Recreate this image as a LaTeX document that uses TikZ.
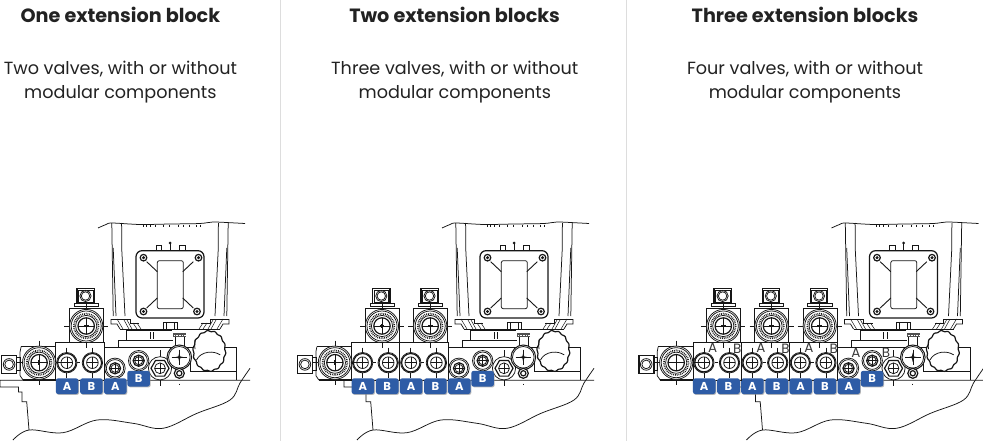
\documentclass[tikz,border=0pt]{standalone}
\usepackage{fontspec}
\setmainfont{Poppins}
\usetikzlibrary{shadows}
\definecolor{ink}{HTML}{161616}
\definecolor{badgeblue}{HTML}{2E5CA6}
\definecolor{rule}{HTML}{DDDDDD}
\definecolor{caption}{HTML}{222222}
\tikzset{
  ln/.style={draw=ink,line width=0.75pt},
  thin ln/.style={draw=ink,line width=0.5pt},
  heavy/.style={draw=ink,line width=1.2pt},
  teeth/.style={draw=ink,line width=1.7pt,dash pattern=on 0.8pt off 1pt},
  heading/.style={font=\fontsize{19.2}{24}\selectfont\bfseries,text=caption,anchor=base,inner sep=0pt},
  subline/.style={font=\fontsize{17.6}{24.7}\selectfont,text=caption,align=center,anchor=north,inner sep=0pt},
  badge/.style={rectangle,rounded corners=2.4pt,fill=badgeblue,text=white,
    font=\fontsize{11.5}{11.5}\selectfont\bfseries,minimum width=22.6pt,minimum height=15.7pt,inner sep=0pt,
    drop shadow={shadow xshift=0.8pt,shadow yshift=-0.9pt,fill=black!45,opacity=0.6}},
  ghost/.style={font=\fontsize{13.5}{14}\selectfont,text=ink!85,inner sep=0pt},
  portpic/.pic={
    \draw[ln] (0,-15)--(0,15);
    \draw[ln,fill=white] (0,0) circle[radius=10.2];
    \draw[heavy,fill=white] (0,0) circle[radius=9.2];
    \draw[ln,fill=white] (0,0) circle[radius=5.8];
    \draw[thin ln] (-5.8,0)--(5.8,0) (0,-5.8)--(0,5.8);
  },
  fittingpic/.pic={
    \draw[ln,fill=white] (0,0) circle[radius=10.2];
    \draw[ln] (0,0) circle[radius=8.7];
    \draw[heavy] (0,0) circle[radius=5.6];
    \draw[ln] (0,0) circle[radius=4];
    \draw[thin ln] (-5.6,0)--(5.6,0) (0,-5.6)--(0,5.6);
  },
  valvepic/.pic={
    \draw[thin ln] (-22,0)--(22,0) (0,-22)--(0,22);
    \draw[ln,fill=white] (0,0) circle[radius=16.6];
    \draw[ln] (0,0) circle[radius=15];
    \draw[teeth] (0,0) circle[radius=12.4];
    \draw[ln] (0,0) circle[radius=10.6];
    \draw[heavy] (0,0) circle[radius=8.2];
    \draw[thin ln] (-8.2,0)--(8.2,0) (0,-8.2)--(0,8.2);
    \draw[line width=1.4pt,draw=ink] (-2.4,0)--(2.4,0) (0,-2.4)--(0,2.4);
  },
  topvalvepic/.pic={
    \draw[heavy,fill=white] (-9.3,-37.3) rectangle (8,-22.7);
    \draw[ln] (-8,-36) rectangle (6.7,-24);
    \draw[ln] (-12,-22.7) rectangle (12.3,-19.3);
    \draw[ln] (-16.7,-17.7)--(17.3,-17.7)--(17.3,15.7);
    \draw[ln] (-16.7,-17.7)--(-16.7,15.7);
    \draw[ln,fill=white] (-0.7,-30) circle[radius=5.6];
    \draw[ln] (-0.7,-30) circle[radius=4.2];
    \pic at (0,0) {valvepic};
  },
  leftendpic/.pic={
    \draw[heavy] (-37.3,-7.3) rectangle (-22.3,10.7);
    \draw[ln] (-22.3,-5) rectangle (-19,8);
    \draw[ln] (-19,-11)--(-19,13) (-19,-11)--(-18,-16) (-19,13)--(-16,17.3);
    \draw[heavy] (-18,-16)--(16.7,-16) (-16,17.3)--(16.7,17.3);
    \draw[ln] (-30,1.7) circle[radius=5.8];
    \draw[ln] (-30,1.7) circle[radius=4.3];
    \pic at (0,0) {valvepic};
  },
  extblockpic/.pic={
    \draw[ln] (0,342.7) rectangle (48.2,380.3);
    \draw[ln] (21.6,362.7)--(24.6,362.7);
    \pic at (11,362.7) {portpic};
    \pic at (36.6,362.7) {portpic};
  },
  rightunitpic/.pic={
    % ground line and broken outline
    \draw[ln] (250,380.3)--(0,380.3)--(0,387)--(18.5,387)--(18.5,392)--(22,392)--(22,401.7)--(26.7,401.7)--(29,430);
    \draw[ln] plot[smooth,tension=0.6] coordinates {(13,440)(29,430)(63,432.7)(97,420)(133,423.3)(163,428.3)(197,413.3)(230,400)(240,383)(250,368.3)};
    % motor
    \draw[ln] plot[smooth,tension=0.5] coordinates {(98,228)(106,224.5)(112,223)(140,224.5)(170,224)(200,223.5)(213,222)(230,222.7)(245,223.5)};
    \foreach \s in {1,-1}{
      \draw[ln] ({170-\s*58.2},223)--({170-\s*56.8},316);
      \draw[ln] ({170-\s*56.8},248)--({170-\s*54},316);
      \draw[ln] ({170-\s*48.4},223)--({170-\s*48.2},250)--({170-\s*45},316);
      \draw[ln] ({170-\s*59},319)--({170-\s*59},324)--({170-\s*53},324)--({170-\s*50},329);
      \draw[ln] ({170-\s*59},319)--({170-\s*40},319)--({170-\s*40},323)--({170-\s*31},323);
      \draw[thin ln] ({170-\s*53},319)--({170-\s*47},329) ({170-\s*46},320)--({170-\s*41},329) ({170-\s*43},320)--({170-\s*38},329) ({170-\s*37},323)--({170-\s*33},329) ({170-\s*33},323)--({170-\s*29},329);
      \draw[line width=0.9pt,draw=ink] ({170-\s*23.3},261.7)--({170-\s*12.7},271.7);
      \draw[line width=0.9pt,draw=ink] ({170-\s*23.3},308)--({170-\s*12.7},298);
    }
    \draw[ln] (120,329)--(220,329);
    \draw[thin ln] (143,224.5)--(143,227) (146,224.5)--(146,227) (150,224.5)--(150,227) (155,224.5)--(155,227) (163,224.5)--(163,227) (169,224.5)--(169,227) (178,224.5)--(178,227) (183,224.5)--(183,227) (189,224.5)--(189,227) (196,224.5)--(196,227) (200,224.5)--(200,227);
    \draw[heavy,rounded corners=6pt] (136,250.7) rectangle (204,318);
    \draw[ln,rounded corners=2pt] (157.3,260.7) rectangle (183.3,308.7);
    \draw[ln] (156,250.7)--(156,245)--(161.7,245)--(161.7,250.7) (179,250.7)--(179,245)--(185,245)--(185,250.7) (170,243)--(170,250.7);
    \fill[ink] (170,243) circle[radius=1.5];
    \foreach \px/\py in {143.5/257.7,198.5/257.7,143.5/311.5,197/311.5}{
      \draw[heavy] (\px,\py) circle[radius=3.3];
      \fill[ink] (\px,\py) circle[radius=1.7];
    }
    \draw[ln] (163,329)--(163,322)--(177,322)--(177,329) (166,322)--(166,329) (174,322)--(174,329);
    % mounting steps
    \draw[ln] (126.7,340)--(126.7,330.7)--(172,330.7);
    \draw[ln] (150,332)--(150,338.5) (153.5,332)--(153.5,338.5);
    \draw[ln] (118.3,347.7)--(118.3,340)--(173,340);
    \draw[ln] (104,347.7)--(236.7,347.7)--(236.7,380.3);
    \draw[ln] (190,357)--(190,371.7)--(236.7,371.7);
    % ports
    \pic at (115,368.3) {fittingpic};
    \pic at (138.7,360.7) {fittingpic};
    % hex nut
    \draw[ln] (160,350)--(160,386);
    \draw[ln,fill=white] (160,368.3) circle[radius=11.6];
    \draw[heavy,fill=white] (169,368.3)--(164.5,376.1)--(155.5,376.1)--(151,368.3)--(155.5,360.5)--(164.5,360.5)--cycle;
    \draw[ln] (160,368.3) circle[radius=5.4];
    \draw[thin ln] (154.6,368.3)--(165.4,368.3) (160,362.9)--(160,373.7);
    % handwheel
    \draw[heavy,fill=white] plot[smooth cycle,domain=0:356,samples=90] ({209.3+(16+0.55*sin(14*\x))*cos(\x)},{351+(20+0.55*sin(14*\x))*sin(\x)});
    \draw[ln] (195,340) arc[start angle=215,end angle=145,x radius=2,y radius=8];
    \draw[ln] (196.5,360) arc[start angle=200,end angle=310,x radius=15,y radius=12];
    % small knob
    \draw[ln] (175,336.7)--(175,347) (184,336.7)--(184,347);
    \fill[ink!75] (173.3,332.7) rectangle (186,336.7);
    \draw[white,line width=0.4pt,dash pattern=on 0.7pt off 0.9pt] (174,334.7)--(185.5,334.7);
    \draw[line width=1pt,draw=ink,fill=white] (179.3,357.3) circle[radius=12.3];
    \draw[ln] (179.3,357.3) circle[radius=10.8];
    \draw[thin ln] (171.5,357.3)--(187.1,357.3) (179.3,349.5)--(179.3,365.1);
    \fill[ink] (179.3,352.5)--(180.2,356.4)--(184.1,357.3)--(180.2,358.2)--(179.3,362.1)--(178.4,358.2)--(174.5,357.3)--(178.4,356.4)--cycle;
    \draw[heavy,fill=white] (179.3,373.3) circle[radius=5];
    \draw[heavy] (179.3,373.3) circle[radius=2.6];
    \draw[thin ln] (179,383.7)--(179,385);
  }
}
\begin{document}
\begin{tikzpicture}[x=1pt,y=-1pt]
  \useasboundingbox (0,0) rectangle (983,441);
  \fill[white] (0,0) rectangle (983,441);
  \draw[rule,line width=0.9pt] (280.5,0)--(280.5,441);
  \draw[rule,line width=0.9pt] (626,0)--(626,441);

  \node[heading] (title1) at (120.4,22.7) {One extension block};
  \node[heading] (title2) at (454.6,22.7) {Two extension blocks};
  \node[heading] (title3) at (805,22.7) {Three extension blocks};
  \node[subline] (sub1) at (120.4,60.5) {Two valves, with or without\\modular components};
  \node[subline] (sub2) at (454.8,60.5) {Three valves, with or without\\modular components};
  \node[subline] (sub3) at (805,60.5) {Four valves, with or without\\modular components};

  \node[ghost] (ghostA1) at (712.7,348.3) {A};
  \node[ghost] (ghostB1) at (737.3,348.3) {B};
  \node[ghost] (ghostA2) at (760.9,348.3) {A};
  \node[ghost] (ghostB2) at (785.5,348.3) {B};
  \node[ghost] (ghostA3) at (808.9,348.3) {A};
  \node[ghost] (ghostB3) at (833.7,348.3) {B};
  \node[ghost] (ghostA4) at (856,352.7) {A};
  \node[ghost] (ghostB4) at (886,352.7) {B};

  \foreach \dx/\n in {0/1,344/2,733.5/3}{
    \pic at (\dx,0) {rightunitpic};
    \foreach \k in {1,...,\n}{
      \pic at ({\dx+104-48.2*\k},0) {extblockpic};
      \pic at ({\dx+104-48.2*\k+30.4},326) {topvalvepic};
      \node[badge] (ba\n\k) at ({\dx+104-48.2*\k+11.3},386.2) {A};
      \node[badge] (bb\n\k) at ({\dx+104-48.2*\k+35.6},386.2) {B};
    }
    \pic at ({\dx+104-48.2*\n-16.7},362.7) {leftendpic};
    \node[badge] (bc\n) at ({\dx+115.3},386.2) {A};
    \node[badge] (bd\n) at ({\dx+138.6},378.7) {B};
  }
\end{tikzpicture}
\end{document}
